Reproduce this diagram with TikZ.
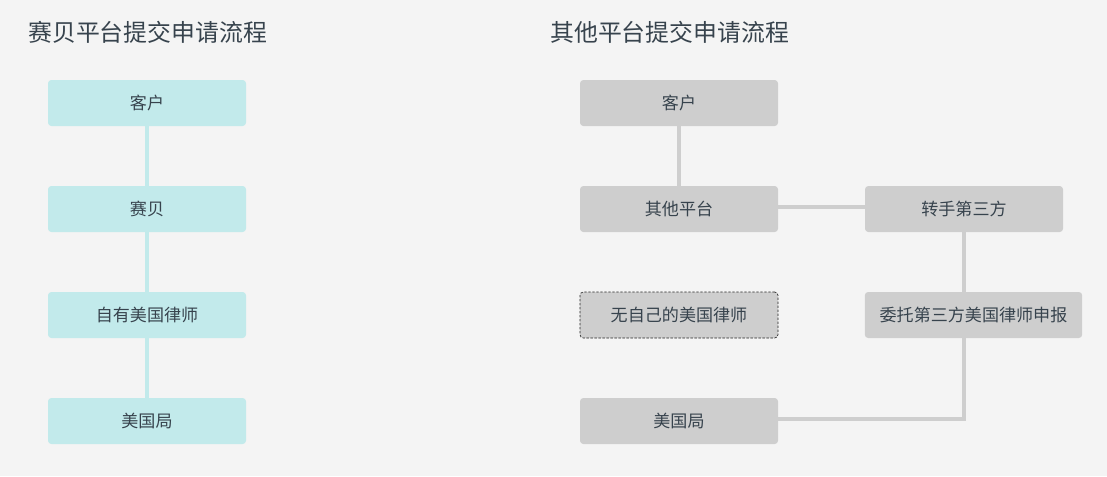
\documentclass[tikz,border=0pt]{standalone}
\usepackage{fontspec}
\setmainfont{Noto Sans CJK SC}
\usepackage{xcolor}
\usetikzlibrary{positioning, calc}
\definecolor{pagebg}{HTML}{F4F4F4}
\definecolor{saicyan}{HTML}{C2EAEB}
\definecolor{othgray}{HTML}{CECECE}
\definecolor{txtdark}{HTML}{37434D}

\begin{document}
\begin{tikzpicture}[x=0.75pt, y=-0.75pt,
  box/.style={rounded corners=2.5pt, minimum height=34.5pt, inner sep=0pt,
              font=\fontsize{12.8pt}{14pt}\selectfont, text=txtdark},
  cyanbox/.style={box, fill=saicyan, minimum width=148.5pt},
  graybox/.style={box, fill=othgray, minimum width=148.5pt},
  cyanlink/.style={saicyan, line width=3pt},
  graylink/.style={othgray, line width=3pt},
  heading/.style={anchor=west, inner sep=0pt, font=\fontsize{17.9pt}{20pt}\selectfont, text=txtdark}]

\fill[pagebg] (0, 0) rectangle (1107, 476);
\useasboundingbox (0, 0) rectangle (1107, 476);

%% LEFT – own platform
\node[heading] (tleft) at (28, 32) {赛贝平台提交申请流程};
\node[cyanbox] (kh1) at (147, 103) {客户};
\node[cyanbox] (sb1) at (147, 209) {赛贝};
\node[cyanbox] (ls1) at (147, 315) {自有美国律师};
\node[cyanbox] (mg1) at (147, 421) {美国局};
\draw[cyanlink] (kh1) -- (sb1);
\draw[cyanlink] (sb1) -- (ls1);
\draw[cyanlink] (ls1) -- (mg1);

%% RIGHT – other platforms
\node[heading] (tright) at (550, 32) {其他平台提交申请流程};
\node[graybox] (kh2) at (679, 103) {客户};
\node[graybox] (pt2) at (679, 209) {其他平台};
\node[graybox, draw=black!85, dash pattern=on 1.8pt off 1.2pt, line width=0.5pt] (ls2) at (679, 315) {无自己的美国律师};
\node[graybox] (mg2) at (679, 421) {美国局};
\node[graybox] (zs2) at (964, 209) {转手第三方};
\node[graybox, minimum width=163pt] (wt2) at (973.5, 315) {委托第三方美国律师申报};

\draw[graylink] (kh2) -- (pt2);
\draw[graylink] (pt2.east |- 0, 207) -- (zs2.west |- 0, 207);
\draw[graylink] (zs2.south) -- (zs2.south |- wt2.north);
\draw[graylink] (zs2.south |- wt2.south) -- (zs2.south |- 0, 419) -- (mg2.east |- 0, 419);

\end{tikzpicture}
\end{document}
